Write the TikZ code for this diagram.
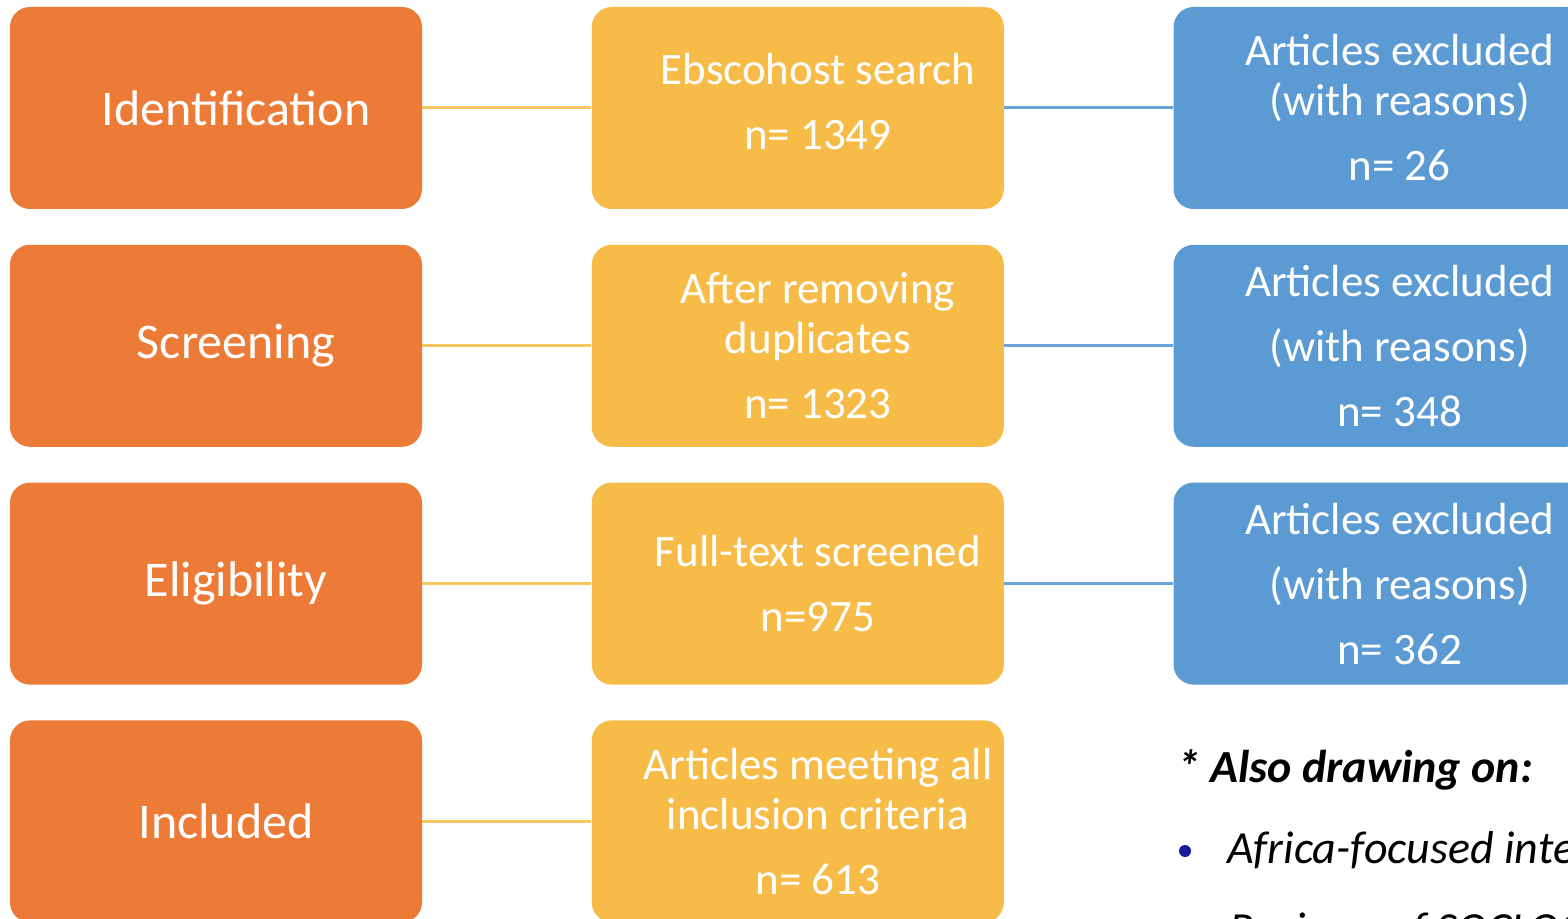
\documentclass[tikz,border=0pt]{standalone}
\usepackage{fontspec}
\setmainfont{Carlito}
\usetikzlibrary{positioning}
\definecolor{stageorange}{HTML}{ED7B38}
\definecolor{countgold}{HTML}{F7BC47}
\definecolor{excludeblue}{HTML}{5B9AD2}
\definecolor{bulletnavy}{HTML}{1A1A9C}
\tikzset{
  box/.style={rounded corners=10pt, minimum width=206pt, minimum height=101pt,
    inner sep=0pt}, % the three kinds of boxes share one size
  stage/.style={box, fill=stageorange},
  count/.style={box, fill=countgold},
  excl/.style={box, fill=excludeblue},
  boxtext/.style={text=white, align=center, xshift=10pt,
    font=\fontsize{22.5}{25}\selectfont},
  stagetext/.style={boxtext, font=\fontsize{25}{28}\selectfont},
  link/.style={line width=1.5pt},
  note/.style={anchor=base west, font=\fontsize{23}{27}\selectfont\itshape},
}

\begin{document}
\begin{tikzpicture}[x=0.5pt, y=-0.5pt]
  \useasboundingbox (0,0) rectangle (1568,919);
  \clip (0,0) rectangle (1568,919);

  % stage column
  \node[stage, label={[stagetext]center:Identification}] (ident) at (216,108) {};
  \node[stage, below=17.5pt of ident, label={[stagetext]center:Screening}] (screen) {};
  \node[stage, below=17.5pt of screen, label={[stagetext]center:Eligibility}] (elig) {};
  \node[stage, below=17.5pt of elig, label={[stagetext, xshift=-5pt]center:Included}] (incl) {};

  % counts
  \node[count, right=84.5pt of ident,
    label={[boxtext, yshift=3pt]center:{Ebscohost search\\[7.5pt]n= 1349}}] (ebsco) {};
  \node[count, right=84.5pt of screen,
    label={[boxtext]center:{After removing\\duplicates\\[7.5pt]n= 1323}}] (dedup) {};
  \node[count, right=84.5pt of elig,
    label={[boxtext]center:{Full-text screened\\[7.5pt]n=975}}] (fulltext) {};
  \node[count, right=84.5pt of incl,
    label={[boxtext]center:{Articles meeting all\\inclusion criteria\\[7.5pt]n= 613}}] (meeting) {};

  % exclusions
  \node[excl, right=84.5pt of ebsco,
    label={[boxtext]center:{Articles excluded\\(with reasons)\\[7.5pt]n= 26}}] (excl1) {};
  \node[excl, right=84.5pt of dedup,
    label={[boxtext]center:{Articles excluded\\[7.5pt](with reasons)\\[7.5pt]n= 348}}] (excl2) {};
  \node[excl, right=84.5pt of fulltext,
    label={[boxtext]center:{Articles excluded\\[7.5pt](with reasons)\\[7.5pt]n= 362}}] (excl3) {};

  \draw[link, countgold!85!white] (ident) -- (ebsco);
  \draw[link, countgold!85!white] (screen) -- (dedup);
  \draw[link, countgold!85!white] (elig) -- (fulltext);
  \draw[link, countgold!85!white] (incl) -- (meeting);
  \draw[link, excludeblue!90!white] (ebsco) -- (excl1);
  \draw[link, excludeblue!90!white] (dedup) -- (excl2);
  \draw[link, excludeblue!90!white] (fulltext) -- (excl3);

  % side note
  \node[note, font=\fontsize{23}{27}\selectfont\bfseries\itshape] (also) at (1170,782) {* Also drawing on:};
  \node[circle, fill=bulletnavy, inner sep=0pt, minimum size=6pt] (dot1) at (1185,851) {};
  \node[note] (africa) at (1220,863) {Africa-focused interventions};
  \node[note] (reviews) at (1222,944) {Reviews of SOCLOG};
\end{tikzpicture}
\end{document}
